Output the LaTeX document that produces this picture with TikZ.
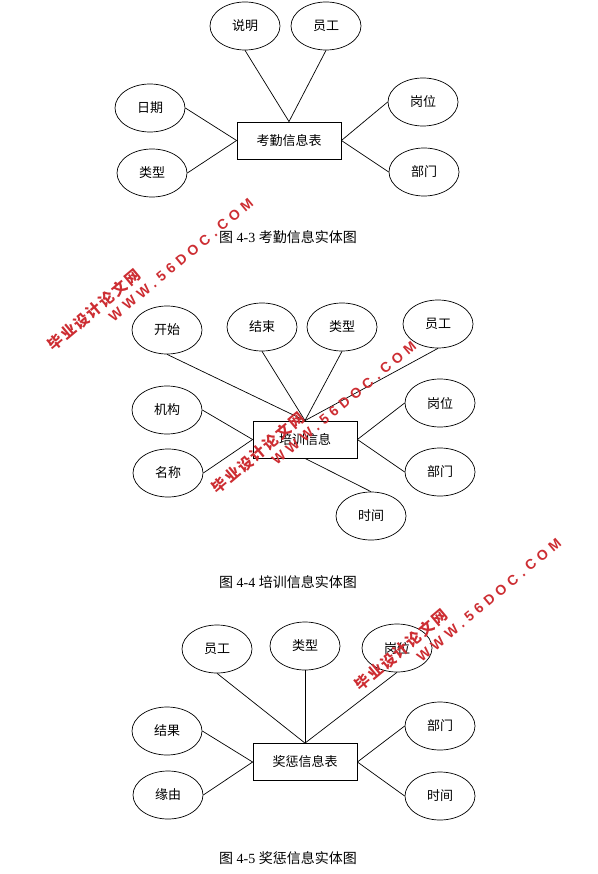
\documentclass[tikz,border=0pt]{standalone}
\usepackage{fontspec}
\setmainfont{Liberation Serif}
\newfontfamily\cjk{Noto Sans CJK SC}
\newfontfamily\wmcjk{Noto Sans CJK SC}[LetterSpace=12]
\newfontfamily\wmlat{Liberation Sans}[LetterSpace=34]
\usetikzlibrary{shapes.geometric}
\definecolor{wmred}{RGB}{205,45,50}
\tikzset{
  attr/.style={ellipse,draw,line width=0.7pt,minimum width=70pt,minimum height=48pt,inner sep=0pt,font=\cjk\fontsize{13}{13}\selectfont},
  ent/.style={rectangle,draw,line width=0.8pt,minimum width=104pt,minimum height=37pt,inner sep=0pt,font=\cjk\fontsize{13}{13}\selectfont},
  conn/.style={line width=0.7pt},
  figcap/.style={font=\fontsize{14}{14}\selectfont},
  wmA/.style={text=wmred,rotate=40,font=\wmcjk\bfseries\fontsize{15}{15}\selectfont,inner sep=0pt},
  wmB/.style={text=wmred,rotate=40,font=\wmlat\bfseries\fontsize{14}{14}\selectfont,inner sep=0pt}
}
\begin{document}
\begin{tikzpicture}[x=1pt,y=-1pt]
\useasboundingbox (0,0) rectangle (597,874);
\fill[white] (0,0) rectangle (597,874);
% ---------- Figure 4-3 ----------
\node[ent] (k) at (289,140.5) {考勤信息表};
\node[attr] (k1) at (245,26) {说明};
\node[attr] (k2) at (326,26) {员工};
\node[attr] (k3) at (150,108) {日期};
\node[attr] (k4) at (152,173) {类型};
\node[attr] (k5) at (423,102) {岗位};
\node[attr] (k6) at (424,172) {部门};
\draw[conn] (k1.south) -- (k.north);
\draw[conn] (k2.south) -- (k.north);
\draw[conn] (k3.east) -- (k.west);
\draw[conn] (k4.east) -- (k.west);
\draw[conn] (k5.west) -- (k.east);
\draw[conn] (k6.west) -- (k.east);
\node[figcap] (c1) at (288,237) {{\cjk 图} 4-3 {\cjk 考勤信息实体图}};
% ---------- Figure 4-4 ----------
\node[ent] (p) at (305,439.5) {培训信息};
\node[attr] (p1) at (167,330) {开始};
\node[attr] (p2) at (262,327) {结束};
\node[attr] (p3) at (342,327) {类型};
\node[attr] (p4) at (438,324) {员工};
\node[attr] (p5) at (167,410) {机构};
\node[attr] (p6) at (168,473) {名称};
\node[attr] (p7) at (440,403) {岗位};
\node[attr] (p8) at (440,472) {部门};
\node[attr] (p9) at (371,516) {时间};
\draw[conn] (p1.south) -- (p.north);
\draw[conn] (p2.south) -- (p.north);
\draw[conn] (p3.south) -- (p.north);
\draw[conn] (p4.south) -- (p.north);
\draw[conn] (p5.east) -- (p.west);
\draw[conn] (p6.east) -- (p.west);
\draw[conn] (p7.west) -- (p.east);
\draw[conn] (p8.west) -- (p.east);
\draw[conn] (p9.north) -- (p.south);
\node[figcap] (c2) at (288,582) {{\cjk 图} 4-4 {\cjk 培训信息实体图}};
% ---------- Figure 4-5 ----------
\node[ent] (j) at (305,762) {奖惩信息表};
\node[attr] (j1) at (217,649) {员工};
\node[attr] (j2) at (305,646) {类型};
\node[attr] (j3) at (397,648) {岗位};
\node[attr] (j4) at (167,731) {结果};
\node[attr] (j5) at (168,795) {缘由};
\node[attr] (j6) at (440,726) {部门};
\node[attr] (j7) at (440,796) {时间};
\draw[conn] (j1.south) -- (j.north);
\draw[conn] (j2.south) -- (j.north);
\draw[conn] (j3.south) -- (j.north);
\draw[conn] (j4.east) -- (j.west);
\draw[conn] (j5.east) -- (j.west);
\draw[conn] (j6.west) -- (j.east);
\draw[conn] (j7.west) -- (j.east);
\node[figcap] (c3) at (288,858) {{\cjk 图} 4-5 {\cjk 奖惩信息实体图}};
% ---------- watermarks ----------
\node[wmA] (w1a) at (94,310) {毕业设计论文网};
\node[wmB] (w1b) at (181,260) {WWW.56DOC.COM};
\node[wmA] (w2a) at (258,453) {毕业设计论文网};
\node[wmB] (w2b) at (344,403) {WWW.56DOC.COM};
\node[wmA] (w3a) at (401,650) {毕业设计论文网};
\node[wmB] (w3b) at (489,600) {WWW.56DOC.COM};
\end{tikzpicture}
\end{document}
